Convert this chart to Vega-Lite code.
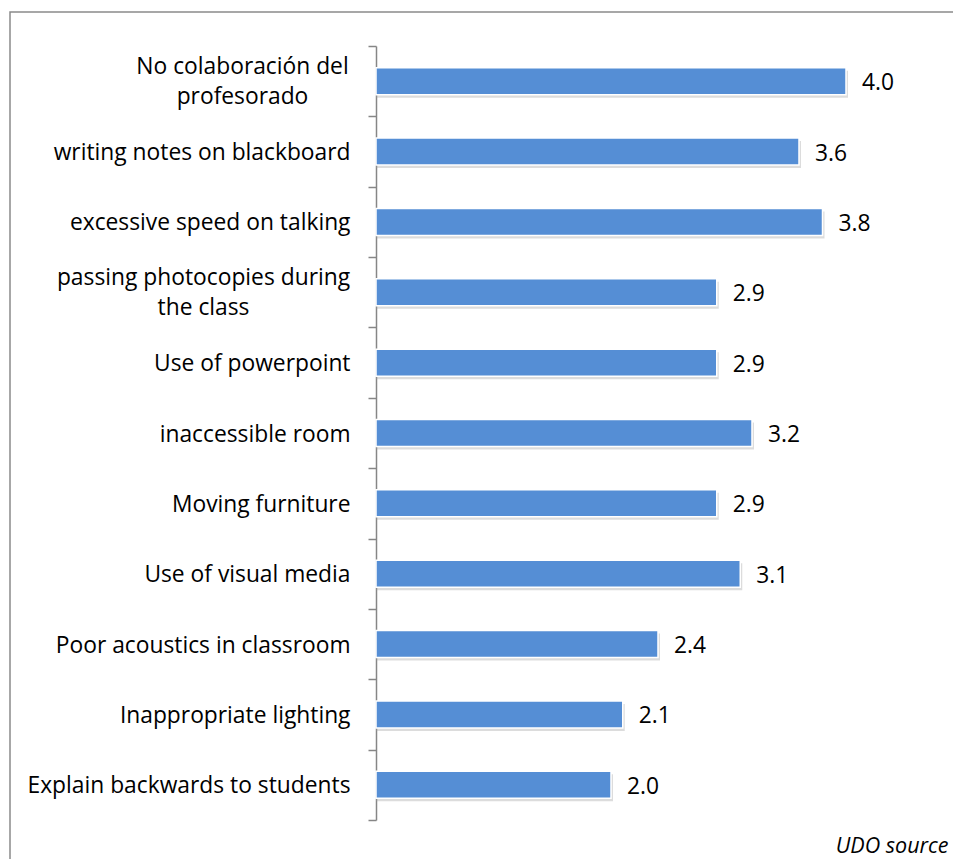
{
  "$schema": "https://vega.github.io/schema/vega-lite/v6.json",
  "autosize": "none",
  "padding": {"left": 10, "top": 12, "right": 0, "bottom": 0},
  "width": 950,
  "height": 860,
  "background": "white",
  "config": {
    "view": {"stroke": "#8a8a8a", "strokeWidth": 1.5, "fill": "white"},
    "font": "Open Sans"
  },
  "data": {
    "values": [
      {"item": "No colaboración del profesorado", "score": 4.0},
      {"item": "writing notes on blackboard", "score": 3.6},
      {"item": "excessive speed on talking", "score": 3.8},
      {"item": "passing photocopies during the class", "score": 2.9},
      {"item": "Use of powerpoint", "score": 2.9},
      {"item": "inaccessible room", "score": 3.2},
      {"item": "Moving furniture", "score": 2.9},
      {"item": "Use of visual media", "score": 3.1},
      {"item": "Poor acoustics in classroom", "score": 2.4},
      {"item": "Inappropriate lighting", "score": 2.1},
      {"item": "Explain backwards to students", "score": 2.0}
    ]
  },
  "encoding": {
    "y": {
      "field": "item",
      "type": "nominal",
      "sort": null,
      "scale": {"range": [34, 808], "paddingInner": 0, "paddingOuter": 0},
      "axis": {
        "title": null,
        "orient": "left",
        "offset": -366,
        "domainColor": "#868686",
        "domainWidth": 1.5,
        "tickColor": "#868686",
        "tickWidth": 1.5,
        "tickSize": 8,
        "tickBand": "extent",
        "labelFont": "Open Sans",
        "labelFontSize": 22.8,
        "labelColor": "#000000",
        "labelLineHeight": 30,
        "labelLimit": 0,
        "labelExpr": "datum.value == 'No colaboración del profesorado' ? ['No colaboración del', 'profesorado'] : datum.value == 'passing photocopies during the class' ? ['passing photocopies during', 'the class'] : datum.value",
        "labelAlign": {
          "condition": {"test": "datum.value == 'No colaboración del profesorado' || datum.value == 'passing photocopies during the class'", "value": "center"},
          "value": "right"
        },
        "labelOffset": {
          "condition": {"test": "datum.value == 'No colaboración del profesorado' || datum.value == 'passing photocopies during the class'", "value": -15},
          "value": 1
        },
        "labelPadding": {
          "condition": [
            {"test": "datum.value == 'No colaboración del profesorado'", "value": 126},
            {"test": "datum.value == 'passing photocopies during the class'", "value": 165}
          ],
          "value": 18
        }
      }
    },
    "x": {
      "type": "quantitative",
      "scale": {"domain": [-3.1149, 4.9702], "nice": false, "zero": false},
      "axis": {
        "orient": "bottom",
        "domain": false,
        "ticks": false,
        "labels": false,
        "grid": false,
        "title": "UDO source",
        "titleFont": "Open Sans",
        "titleFontStyle": "italic",
        "titleFontWeight": "normal",
        "titleFontSize": 21.5,
        "titleColor": "#000000",
        "titleAlign": "right",
        "titleAnchor": "end",
        "titleBaseline": "alphabetic",
        "titleX": 938,
        "titleY": -20
      }
    }
  },
  "layer": [
    {
      "mark": {"type": "bar", "size": 27, "color": "#9a9a9a", "opacity": 0.35, "xOffset": 2, "yOffset": 3},
      "encoding": {
        "x": {"field": "score", "type": "quantitative"},
        "x2": {"datum": 0}
      }
    },
    {
      "mark": {"type": "bar", "size": 27, "color": "#558ED5", "stroke": "#ffffff", "strokeWidth": 1.5},
      "encoding": {
        "x": {"field": "score", "type": "quantitative"},
        "x2": {"datum": 0}
      }
    },
    {
      "mark": {"type": "text", "align": "left", "baseline": "middle", "dx": 16, "dy": 2, "font": "Open Sans", "fontSize": 22.8, "color": "#000000"},
      "encoding": {
        "x": {"field": "score", "type": "quantitative"},
        "text": {"field": "score", "type": "quantitative", "format": ".1f"}
      }
    }
  ]
}
